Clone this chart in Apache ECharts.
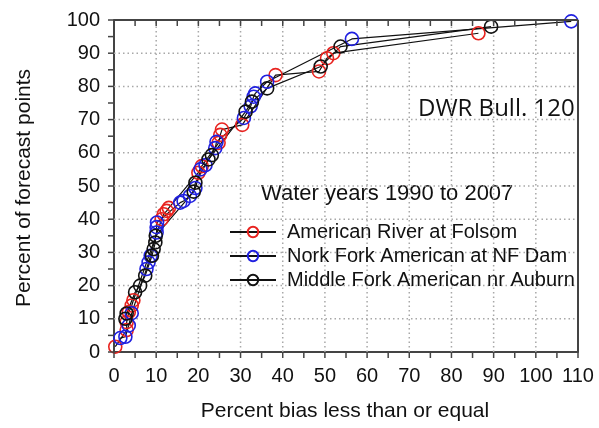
<!DOCTYPE html>
<html>
<head>
<meta charset="utf-8">
<script src="https://cdn.jsdelivr.net/npm/echarts@6/dist/echarts.min.js"></script>
<style>
  html, body { margin: 0; padding: 0; background: #fff; }
  #chart { width: 599px; height: 428px; }
</style>
</head>
<body>
<div id="chart"></div>
<script>
// percent bias (x) and percent of forecast points (y)
var folsomX = [0.3, 3, 3, 3.5, 4.2, 4.6, 11.3, 11.8, 12.5, 13, 20, 20.8, 24.8, 25.2, 25.6, 30.4, 38.3, 48.6, 50.5, 52, 86.4];
var folsomY = [1.6, 6.6, 9, 12, 14, 15.6, 40, 41.5, 42.5, 43.4, 54, 56, 63, 65.4, 67, 68.4, 83.4, 84.5, 88.5, 90, 96];

var nfDamX = [1.5, 2.7, 3.5, 4.2, 7.7, 8.2, 8.7, 10.1, 10.1, 10.2, 15.7, 16.5, 18, 19.3, 20.5, 21.7, 24, 24.3, 30.8, 32.4, 33.1, 33.5, 36.3, 56.4, 108.4];
var nfDamY = [4.2, 4.6, 8, 11.7, 25, 27, 29, 36, 37.6, 39, 45, 45.5, 47, 49.4, 55, 56.3, 61.4, 63.3, 70.5, 74, 76.9, 77.9, 81.4, 94.3, 99.6];

var auburnX = [2.7, 3, 5, 6.2, 7.4, 9, 9.4, 9.8, 9.9, 18.9, 19.3, 22.4, 23.2, 31.2, 32.7, 36.3, 49, 53.7, 89.4];
var auburnY = [10, 11.6, 18, 20, 23, 29, 31, 33, 35, 48.3, 51, 58, 59.3, 72.4, 75.4, 79.4, 86, 92, 98];

var seriesNames = ['American River at Folsom', 'Nork Fork American at NF Dam', 'Middle Fork American nr Auburn'];
var markColors = ['#e8231f', '#2020e0', '#111111'];

// tick positions (every 5) and dotted grid positions (every 10)
var xTickValues = [0, 5, 10, 15, 20, 25, 30, 35, 40, 45, 50, 55, 60, 65, 70, 75, 80, 85, 90, 95, 100, 105, 110];
var yTickValues = [0, 5, 10, 15, 20, 25, 30, 35, 40, 45, 50, 55, 60, 65, 70, 75, 80, 85, 90, 95, 100];
var xGridValues = [10, 20, 30, 40, 50, 60, 70, 80, 90, 100];
var yGridValues = [10, 20, 30, 40, 50, 60, 70, 80, 90];
var xMin = 0, xMax = 110, yMin = 0, yMax = 100;

function pairs(xs, ys) {
    var out = [];
    for (var i = 0; i < xs.length; i++) out.push([xs[i], ys[i]]);
    return out;
}
var allData = [pairs(folsomX, folsomY), pairs(nfDamX, nfDamY), pairs(auburnX, auburnY)];

var font = 'Liberation Sans, Arial, sans-serif';
var axisCol = '#444';
var tenOnly = function (v) { return v % 10 === 0 ? v : ''; };

function seg(a, b, style) {
    return { type: 'line', shape: { x1: a[0], y1: a[1], x2: b[0], y2: b[1] }, style: style };
}
var gridStyle = { stroke: '#a8a8a8', lineWidth: 1.5, lineDash: [1.5, 3] };
var tickStyle = { stroke: axisCol, lineWidth: 1.5 };
var frameStyle = { stroke: axisCol, lineWidth: 2 };

// helper series drawn through the axes' scales: grid, ticks, top/right frame
var helpers = [{
    type: 'custom', name: 'xgrid', silent: true, z: 1,
    data: xGridValues.map(function (v) { return [v, yMin]; }),
    renderItem: function (params, api) {
        return seg(api.coord([api.value(0), yMin]), api.coord([api.value(0), yMax]), gridStyle);
    }
}, {
    type: 'custom', name: 'ygrid', silent: true, z: 1,
    data: yGridValues.map(function (v) { return [xMin, v]; }),
    renderItem: function (params, api) {
        return seg(api.coord([xMin, api.value(1)]), api.coord([xMax, api.value(1)]), gridStyle);
    }
}, {
    type: 'custom', name: 'xticks', silent: true, z: 6,
    data: xTickValues.map(function (v) { return [v, yMin]; }),
    renderItem: function (params, api) {
        var b = api.coord([api.value(0), yMin]);
        var t = api.coord([api.value(0), yMax]);
        return { type: 'group', children: [
            seg(b, [b[0], b[1] + 6], tickStyle),
            seg(t, [t[0], t[1] + 6], tickStyle)
        ] };
    }
}, {
    type: 'custom', name: 'yticks', silent: true, z: 6,
    data: yTickValues.map(function (v) { return [xMin, v]; }),
    renderItem: function (params, api) {
        var l = api.coord([xMin, api.value(1)]);
        return seg([l[0] - 6, l[1]], l, tickStyle);
    }
}, {
    type: 'custom', name: 'frame', silent: true, z: 6,
    data: [[xMax, yMax]],
    renderItem: function (params, api) {
        var tl = api.coord([xMin, yMax]);
        var tr = api.coord([xMax, yMax]);
        var br = api.coord([xMax, yMin]);
        return { type: 'group', children: [seg(tl, tr, frameStyle), seg(tr, br, frameStyle)] };
    }
}];

var series = seriesNames.map(function (name, i) {
    return {
        name: name,
        type: 'line',
        data: allData[i],
        symbol: 'circle',
        symbolSize: 13,
        z: 3,
        itemStyle: { color: 'rgba(255,255,255,0)', borderColor: markColors[i], borderWidth: 1.6 },
        lineStyle: { color: '#111', width: 1.2 }
    };
});

var myChart = echarts.init(document.getElementById('chart'));
myChart.setOption({
    animation: false,
    legend: {
        orient: 'vertical',
        left: 224,
        top: 217,
        itemWidth: 46,
        itemHeight: 13,
        itemGap: 4,
        textStyle: { fontFamily: font, fontSize: 20, color: '#111', padding: [0, 0, 0, 6] },
        data: seriesNames
    },
    graphic: [{
        type: 'text', left: 261, top: 183,
        style: { text: 'Water years 1990 to 2007', font: '22px ' + font, fill: '#111' }
    }, {
        type: 'text', left: 418, top: 97,
        style: { text: 'DWR Bull. 120', font: '24px "Open Sans", sans-serif', fill: '#111' }
    }, {
        type: 'text', x: 345, y: 411,
        style: { text: 'Percent bias less than or equal', font: '21px ' + font, fill: '#111', align: 'center', verticalAlign: 'middle' }
    }, {
        type: 'text', x: 24, y: 188, rotation: Math.PI / 2,
        style: { text: 'Percent of forecast points', font: '21px ' + font, fill: '#111', align: 'center', verticalAlign: 'middle' }
    }],
    grid: { left: 114, right: 21, top: 20, bottom: 76 },
    xAxis: {
        type: 'value',
        min: xMin,
        max: xMax,
        interval: 5,
        axisLine: { show: true, onZero: false, lineStyle: { color: axisCol, width: 2 } },
        axisTick: { show: false },
        axisLabel: { fontFamily: font, fontSize: 20, color: '#111', margin: 14, formatter: tenOnly },
        splitLine: { show: false }
    },
    yAxis: {
        type: 'value',
        min: yMin,
        max: yMax,
        interval: 5,
        axisLine: { show: true, onZero: false, lineStyle: { color: axisCol, width: 2 } },
        axisTick: { show: false },
        axisLabel: { fontFamily: font, fontSize: 20, color: '#111', margin: 14, formatter: tenOnly },
        splitLine: { show: false }
    },
    series: helpers.concat(series)
});
</script>
</body>
</html>
